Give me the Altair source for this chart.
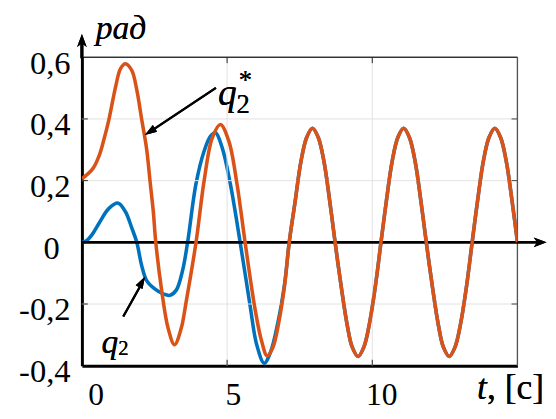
import altair as alt
import pandas as pd

# ---- data ----
t_ref = [0.00, 0.37, 0.59, 0.76, 0.93, 1.16, 1.33, 1.50, 1.72, 1.89, 2.06, 2.23, 2.35, 2.46, 2.54,
         2.74, 2.97, 3.19, 3.42, 3.59, 3.93, 4.21, 4.49, 4.77, 5.06, 5.34, 5.62, 5.96, 6.19, 6.38,
         6.58, 6.78, 6.98, 7.14, 7.34, 7.54, 7.74, 7.94, 8.14, 8.34, 8.54, 8.72, 8.94, 9.14, 9.31,
         9.51, 9.71, 9.91, 10.11, 10.30, 10.48, 10.68, 10.88, 11.08, 11.28, 11.48, 11.68, 11.86,
         12.08, 12.28, 12.45, 12.65, 12.85, 13.05, 13.25, 13.44, 13.62, 13.82, 14.02, 14.22, 14.42,
         14.62, 14.82, 15.00]
q_ref = [0.206, 0.238, 0.280, 0.334, 0.398, 0.504, 0.563, 0.579, 0.557, 0.494, 0.398, 0.302, 0.195,
         0.099, 0.004, -0.151, -0.279, -0.332, -0.279, -0.193, 0.000, 0.200, 0.339, 0.382, 0.328,
         0.190, 0.000, -0.215, -0.321, -0.368, -0.340, -0.260, -0.140, 0.000, 0.130, 0.260, 0.340,
         0.370, 0.340, 0.260, 0.130, 0.000, -0.150, -0.270, -0.340, -0.370, -0.340, -0.260, -0.140,
         0.000, 0.130, 0.260, 0.340, 0.370, 0.340, 0.260, 0.130, 0.000, -0.150, -0.270, -0.340,
         -0.370, -0.340, -0.260, -0.140, 0.000, 0.130, 0.260, 0.340, 0.370, 0.340, 0.260, 0.130,
         0.000]

t_act = [0.00, 0.14, 0.35, 0.59, 0.93, 1.25, 1.50, 1.72, 1.89, 2.06, 2.23, 2.51, 2.80, 3.02, 3.25,
         3.47, 3.64, 3.93, 4.21, 4.43, 4.60, 4.83, 5.11, 5.45, 5.79, 6.02, 6.28, 6.50, 6.75, 6.98,
         7.14, 7.34, 7.54, 7.74, 7.94, 8.14, 8.34, 8.54, 8.72, 8.94, 9.14, 9.31, 9.51, 9.71, 9.91,
         10.11, 10.30, 10.48, 10.68, 10.88, 11.08, 11.28, 11.48, 11.68, 11.86, 12.08, 12.28, 12.45,
         12.65, 12.85, 13.05, 13.25, 13.44, 13.62, 13.82, 14.02, 14.22, 14.42, 14.62, 14.82, 15.00]
q_act = [0.000, 0.004, 0.025, 0.062, 0.110, 0.127, 0.099, 0.046, 0.000, -0.076, -0.124, -0.151,
         -0.167, -0.172, -0.155, -0.090, 0.000, 0.190, 0.296, 0.344, 0.355, 0.307, 0.190, 0.000,
         -0.204, -0.332, -0.392, -0.355, -0.260, -0.135, 0.000, 0.130, 0.260, 0.340, 0.370, 0.340,
         0.260, 0.130, 0.000, -0.150, -0.270, -0.340, -0.370, -0.340, -0.260, -0.140, 0.000, 0.130,
         0.260, 0.340, 0.370, 0.340, 0.260, 0.130, 0.000, -0.150, -0.270, -0.340, -0.370, -0.340,
         -0.260, -0.140, 0.000, 0.130, 0.260, 0.340, 0.370, 0.340, 0.260, 0.130, 0.000]

x_ticks = [0, 5, 10]
y_ticks = [-0.4, -0.2, 0, 0.2, 0.4, 0.6]
grid_x = [5, 10]
grid_y = [-0.2, 0.2, 0.4]

W, H = 442, 313
FONT = "Liberation Serif, Times New Roman, serif"
BLUE = "#0072BD"
ORANGE = "#D95319"

df_ref = pd.DataFrame({"t": t_ref, "q": q_ref})
df_act = pd.DataFrame({"t": t_act, "q": q_act})
df_gx = pd.DataFrame({"g": grid_x})
df_gy = pd.DataFrame({"g": grid_y})

xs = alt.Scale(domain=[0, 15], nice=False, zero=False)
ys = alt.Scale(domain=[-0.4, 0.6], nice=False, zero=False)

x_axis = alt.Axis(values=x_ticks, grid=False, ticks=False, domainColor="black", domainWidth=3,
                  labelFont=FONT, labelFontSize=32, labelColor="black", labelPadding=14,
                  labelOffset={"condition": {"test": "datum.value == 10", "value": 9}, "value": 6},
                  format="d")
y_axis = alt.Axis(values=y_ticks, grid=False, ticks=False, domainColor="black", domainWidth=3,
                  labelFont=FONT, labelFontSize=33, labelColor="black",
                  labelPadding={"condition": {"test": "datum.value == 0", "value": 23}, "value": 12},
                  labelOffset=6,
                  labelExpr="datum.value == 0 ? '0' : (datum.value < 0 ? '-' : '') + '0,' + round(abs(datum.value) * 10)")

blue_line = alt.Chart(df_act).mark_line(color=BLUE, strokeWidth=3.6, interpolate="catmull-rom", clip=True).encode(
    x=alt.X("t:Q", scale=xs, axis=x_axis, title=None),
    y=alt.Y("q:Q", scale=ys, axis=y_axis, title=None),
)
orange_line = alt.Chart(df_ref).mark_line(color=ORANGE, strokeWidth=3.6, interpolate="catmull-rom", clip=True).encode(
    x=alt.X("t:Q", title=None),
    y=alt.Y("q:Q", title=None),
)

grid_v = alt.Chart(df_gx).mark_rule(color="#e2e2e2", strokeWidth=1).encode(x=alt.X("g:Q", title=None))
grid_h = alt.Chart(df_gy).mark_rule(color="#e2e2e2", strokeWidth=1).encode(y=alt.Y("g:Q", title=None))

tick_top = alt.Chart(df_gx).mark_rule(color="#262626", strokeWidth=1).encode(
    x=alt.X("g:Q", title=None), y=alt.value(0), y2=alt.value(6))
tick_bot = alt.Chart(df_gx).mark_rule(color="#262626", strokeWidth=1).encode(
    x=alt.X("g:Q", title=None), y=alt.value(H - 6), y2=alt.value(H))
tick_right = alt.Chart(df_gy).mark_rule(color="#404040", strokeWidth=1).encode(
    y=alt.Y("g:Q", title=None), x=alt.value(W - 6), x2=alt.value(W))
tick_left = alt.Chart(df_gy).mark_rule(color="#262626", strokeWidth=1).encode(
    y=alt.Y("g:Q", title=None), x=alt.value(0), x2=alt.value(6))

top_border = alt.Chart(df_gx).mark_rule(color="#262626", strokeWidth=1.2).encode(
    x=alt.value(0), x2=alt.value(W), y=alt.value(0))
right_border = alt.Chart(df_gx).mark_rule(color="#555555", strokeWidth=1.2).encode(
    x=alt.value(W), y=alt.value(0), y2=alt.value(H))

zero_line = alt.Chart(df_gx).mark_rule(color="black", strokeWidth=2.5).encode(
    y=alt.datum(0), x=alt.value(0), x2=alt.value(W + 22))
x_arrow = alt.Chart(df_gx).mark_point(shape="M1,0 L-1,-0.75 L-0.45,0 L-1,0.75 Z", filled=True,
                                       color="black", opacity=1, size=170).encode(
    x=alt.value(W + 23), y=alt.datum(0))
y_ext = alt.Chart(df_gx).mark_rule(color="black", strokeWidth=3).encode(
    x=alt.value(0), y=alt.value(-16), y2=alt.value(1))
y_arrow = alt.Chart(df_gx).mark_point(shape="M0,-1 L-0.75,1 L0,0.45 L0.75,1 Z", filled=True,
                                       color="black", opacity=1, size=170).encode(
    x=alt.value(0), y=alt.value(-17))

arr1 = alt.Chart(df_gx).mark_rule(color="black", strokeWidth=2.2).encode(
    x=alt.value(136), y=alt.value(31), x2=alt.value(70), y2=alt.value(75))
arr1_head = alt.Chart(df_gx).mark_point(shape="M1,0 L-1,-0.65 L-1,0.65 Z", filled=True, color="black",
                                        opacity=1, size=150, angle=147).encode(
    x=alt.value(69), y=alt.value(75.5))
arr2 = alt.Chart(df_gx).mark_rule(color="black", strokeWidth=2.2).encode(
    x=alt.value(42), y=alt.value(263), x2=alt.value(61), y2=alt.value(229))
arr2_head = alt.Chart(df_gx).mark_point(shape="M1,0 L-1,-0.65 L-1,0.65 Z", filled=True, color="black",
                                        opacity=1, size=150, angle=299).encode(
    x=alt.value(61), y=alt.value(228))


def txt(s, x, y, size, style="normal", align="left"):
    return alt.Chart(df_gx).mark_text(text=s, font=FONT, fontSize=size, fontStyle=style, align=align,
                                      baseline="alphabetic", color="black").encode(
        x=alt.value(x), y=alt.value(y))


labels = [
    txt("рад", 14, -19, 34, "italic"),
    txt("q", 138, 48, 38, "italic"),
    txt("2", 157, 57, 27),
    txt("*", 166, 32, 27, align="center"),
    txt("q", 20, 300, 34, "italic"),
    txt("2", 37, 302, 21),
    txt("t", 401, 347, 36, "italic"),
    txt(", [с]", 411, 347, 36),
]

chart = alt.layer(
    blue_line, grid_v, grid_h, tick_top, tick_bot, tick_right, tick_left, top_border, right_border,
    zero_line, x_arrow, y_ext, y_arrow, orange_line, arr1, arr1_head, arr2, arr2_head, *labels
).properties(
    width=W, height=H,
    autosize=alt.AutoSizeParams(type="none"),
    padding={"left": 75, "top": 47, "right": 31, "bottom": 43},
).configure_view(stroke=None)

chart.save("out.html", embed_options={"renderer": "svg", "actions": False})
